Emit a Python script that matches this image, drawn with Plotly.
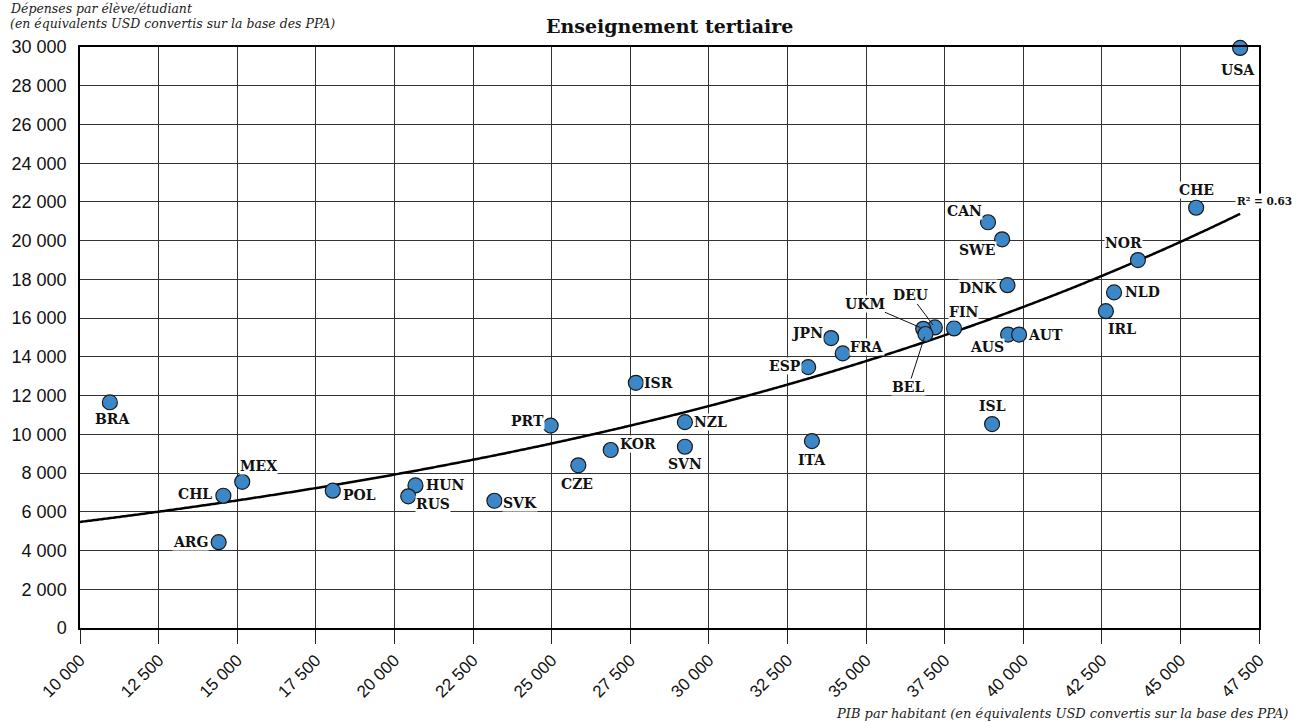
import numpy as np
import plotly.graph_objects as go

countries = ["USA", "CHE", "NOR", "NLD", "IRL", "CAN", "SWE", "DNK", "AUS", "AUT",
             "FIN", "DEU", "UKM", "BEL", "FRA", "JPN", "ESP", "ITA", "ISL", "ISR",
             "NZL", "SVN", "KOR", "CZE", "PRT", "SVK", "HUN", "RUS", "POL", "MEX",
             "CHL", "ARG", "BRA"]
gdp_per_capita = [46900, 45500, 43650, 42890, 42630, 38880, 39330, 39500, 39520, 39870,
                  37800, 37190, 36820, 36890, 34260, 33890, 33160, 33280, 39010, 27680,
                  29240, 29240, 26880, 25850, 24970, 23180, 20670, 20440, 18040, 15160,
                  14560, 14410, 10950]
spending_per_student = [29950, 21700, 19000, 17330, 16360, 20950, 20070, 17700, 15150, 15150,
                        15470, 15520, 15450, 15180, 14180, 14970, 13470, 9650, 10530, 12660,
                        10630, 9360, 9190, 8400, 10450, 6570, 7360, 6800, 7090, 7550,
                        6830, 4430, 11650]

x_ticks = list(range(10000, 47501, 2500))
y_ticks = list(range(0, 30001, 2000))
r2_text = "R² = 0.63"
title_text = "Enseignement tertiaire"
y_title_1 = "Dépenses par élève/étudiant"
y_title_2 = "(en équivalents USD convertis sur la base des PPA)"
x_title = "PIB par habitant (en équivalents USD convertis sur la base des PPA)"


def fmt(v):
    return f"{v:,}".replace(",", " ")


# label offsets in pixels (dx right, dy up)
offsets = {
    "USA": (-2, -22), "CHE": (0, 18), "NOR": (-14, 17), "NLD": (28, 0), "IRL": (16, -18),
    "CAN": (-23, 11), "SWE": (-25, -11), "DNK": (-29, -3), "AUS": (-21, -12), "AUT": (26, 0),
    "FIN": (9, 16), "FRA": (24, 6), "JPN": (-24, 5), "ESP": (-23, 1), "ITA": (0, -19),
    "ISL": (0, 18), "ISR": (23, 0), "NZL": (26, 0), "SVN": (0, -17), "KOR": (27, 6),
    "CZE": (-1, -19), "PRT": (-23, 5), "SVK": (26, -2), "HUN": (30, 0), "RUS": (25, -8),
    "POL": (27, -4), "MEX": (16, 16), "CHL": (-28, 2), "ARG": (-28, 0), "BRA": (3, -17),
}
# leader-line labels: (ax, ay) screen-pixel offset of text from point (ay>0 = below)
leaders = {"DEU": (-24, -32), "UKM": (-58, -25), "BEL": (-17, 53)}

# exponential trend fitted on the data
xs = np.array(gdp_per_capita, dtype=float)
ys = np.array(spending_per_student, dtype=float)
b, ln_a = np.polyfit(xs, np.log(ys), 1)
trend_x = np.linspace(10000, max(gdp_per_capita), 400)
trend_y = np.exp(ln_a + b * trend_x)

label_font = dict(family="DejaVu Serif", size=14, color="#111111", weight="bold")
italic_font = dict(family="DejaVu Serif", size=12.5, color="#222222", style="italic")

fig = go.Figure()
fig.add_trace(go.Scatter(x=trend_x, y=trend_y, mode="lines",
                         line=dict(color="black", width=2.5, shape="spline"), hoverinfo="skip",
                         showlegend=False))
fig.add_trace(go.Scatter(x=gdp_per_capita, y=spending_per_student, mode="markers",
                         marker=dict(size=15, color="#3B87C8",
                                     line=dict(color="#1a1a1a", width=1.2)),
                         text=countries, cliponaxis=False, showlegend=False))

annotations = []
for c, xv, yv in zip(countries, gdp_per_capita, spending_per_student):
    if c in leaders:
        ax, ay = leaders[c]
        annotations.append(dict(x=xv, y=yv, xref="x", yref="y", text=c, font=label_font,
                                showarrow=True, arrowhead=0, arrowwidth=1, arrowcolor="#111111",
                                ax=ax, ay=ay, standoff=3, bgcolor="white", borderpad=0))
    else:
        dx, dy = offsets[c]
        annotations.append(dict(x=xv, y=yv, xref="x", yref="y", text=c, font=label_font,
                                showarrow=False, xshift=dx, yshift=dy, bgcolor="white",
                                borderpad=0))

annotations.append(dict(x=trend_x[-1], y=trend_y[-1], xref="x", yref="y", text=r2_text,
                        font=dict(family="DejaVu Serif", size=10.5, color="#111111", weight="bold"),
                        showarrow=False, xanchor="left", xshift=-5, yshift=13,
                        bgcolor="white", borderpad=1))
annotations.append(dict(x=0, y=1, xref="paper", yref="paper", text=y_title_1,
                        font=italic_font,
                        showarrow=False, xanchor="left", yanchor="middle", xshift=-72, yshift=39))
annotations.append(dict(x=0, y=1, xref="paper", yref="paper", text=y_title_2,
                        font=italic_font,
                        showarrow=False, xanchor="left", yanchor="middle", xshift=-72, yshift=24))
annotations.append(dict(x=1, y=0, xref="paper", yref="paper", text=x_title,
                        font=dict(family="DejaVu Serif", size=13, color="#222222", style="italic"),
                        showarrow=False, xanchor="right", yanchor="middle", xshift=31, yshift=-85))
annotations.append(dict(x=0.5, y=1, xref="paper", yref="paper", text=title_text,
                        font=dict(family="DejaVu Serif", size=19, color="#111111", weight="bold"),
                        showarrow=False, xanchor="center", yanchor="middle", yshift=21))

fig.update_layout(
    width=1293, height=723,
    margin=dict(l=80, r=34, t=47, b=95),
    paper_bgcolor="white", plot_bgcolor="white",
    annotations=annotations,
    xaxis=dict(range=[10000, 47500], tickvals=x_ticks, ticktext=[fmt(v) for v in x_ticks],
               tickangle=-45, ticks="outside", ticklen=14, tickcolor="#222222",
               showgrid=True, gridcolor="#333333", gridwidth=1, automargin=False,
               showline=True, linecolor="black", linewidth=1.5, mirror=True, zeroline=False,
               tickfont=dict(family="Liberation Sans", size=17, color="#111111")),
    yaxis=dict(range=[0, 30000], tickvals=y_ticks, ticktext=[fmt(v) for v in y_ticks],
               ticks="", ticklabelstandoff=8, automargin=False,
               showgrid=True, gridcolor="#333333", gridwidth=1,
               showline=True, linecolor="black", linewidth=1.5, mirror=True, zeroline=False,
               tickfont=dict(family="Liberation Sans", size=18, color="#111111")),
)

fig.write_html("out.html", config={"displayModeBar": False},
               post_script="document.body.style.margin='0';document.body.style.padding='0';")
